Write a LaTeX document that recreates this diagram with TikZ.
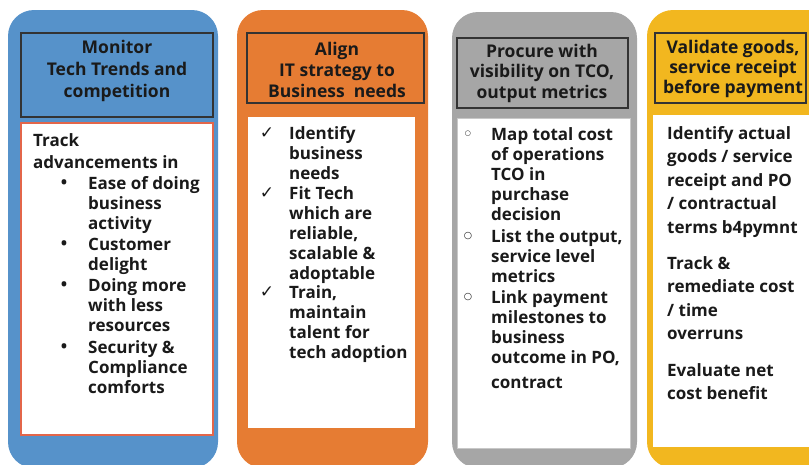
\documentclass[tikz,border=0pt]{standalone}
\usepackage{fontspec}
\setmainfont{Open Sans}
\newfontfamily\symfont{DejaVu Sans}
\definecolor{cblue}{HTML}{5692CA}
\definecolor{corange}{HTML}{E67C33}
\definecolor{cgray}{HTML}{A6A6A6}
\definecolor{cyellow}{HTML}{F2B71F}
\definecolor{hdrline}{HTML}{333333}
\definecolor{txt}{HTML}{1A1A1A}
\definecolor{redline}{HTML}{E3664A}
\definecolor{lgray}{HTML}{C8C8C8}
\begin{document}
\begin{tikzpicture}[x=1pt,y=-1pt,
  colbox/.style={rounded corners=26pt},
  hdrbox/.style={draw=hdrline, line width=1.3pt, inner sep=0pt},
  hdrtext/.style={font=\bfseries\fontsize{17.5}{#1}\selectfont, align=center, text=txt, inner sep=0pt},
  body/.style={font=\bfseries\fontsize{17}{#1}\selectfont, align=left, inner sep=0pt, anchor=north west, text=txt},
  cbox/.style={fill=white, inner sep=0pt},
  dot/.style={font=\bfseries\fontsize{17}{20}\selectfont, text=txt, inner sep=0pt},
  chk/.style={font=\symfont\fontsize{17}{20}\selectfont, text=txt, inner sep=0pt},
  circ/.style={font=\symfont\bfseries\fontsize{#1}{20}\selectfont, text=txt, inner sep=0pt}
]
\useasboundingbox (0,0) rectangle (809,464);
\clip (0,0) rectangle (809,464);

% column backgrounds
\path[fill=cblue, colbox] (8,10) rectangle (218,468);
\path[fill=corange, colbox] (237,10) rectangle (428,468);
\path[fill=cgray, colbox] (452,12) rectangle (637,468);
\path[fill=cyellow, colbox] (647,10) rectangle (840,468);

% header boxes
\node[hdrbox, minimum width=192pt, minimum height=84pt] (h1) at (117,75) {};
\node[hdrbox, minimum width=177pt, minimum height=70pt] (h2) at (335.5,68) {};
\node[hdrbox, minimum width=171pt, minimum height=70pt] (h3) at (542.5,73) {};
\node[hdrbox, minimum width=151pt, minimum height=70pt] (h4) at (730.5,68) {};

\node[hdrtext=22] (ht1) at (117,71) {Monitor\\Tech Trends and\\competition};
\node[hdrtext=21] (ht2) at (337,70) {Align\\IT strategy to\\Business\ \ needs};
\node[hdrtext=20.5] (ht3) at (542,73) {Procure with\\visibility on TCO,\\output metrics};
\node[hdrtext=20] (ht4) at (733,69) {Validate goods,\\service receipt\\before payment};

% content boxes
\node[cbox, draw=redline, line width=1.3pt, minimum width=192pt, minimum height=312pt] (c1) at (117,279) {};
\node[cbox, minimum width=167pt, minimum height=311pt] (c2) at (331.5,272.5) {};
\node[cbox, draw=lgray, line width=0.8pt, minimum width=173pt, minimum height=330pt] (c3) at (543.5,283) {};
\node[cbox, minimum width=170pt, minimum height=332pt] (c4) at (738,281) {};

% column 1 text
\node[body=22] (t1) at (33,131) {\strut Track\\advancements in};
\node[body=20] (t1a) at (88,175) {\strut Ease of doing\\business\\activity};
\node[body=20] (t1b) at (88,236) {\strut Customer\\delight};
\node[body=20] (t1c) at (88,277) {\strut Doing more\\with less\\resources};
\node[body=20] (t1d) at (88,339) {\strut Security \&\\Compliance\\comforts};
\node[dot] (d1a) at (64,184) {•};
\node[dot] (d1b) at (64,245) {•};
\node[dot] (d1c) at (64,286) {•};
\node[dot] (d1d) at (64,348) {•};

% column 2 text
\node[body=20] (t2a) at (289,125) {\strut Identify\\business\\needs};
\node[body=20] (t2b) at (289,185) {\strut Fit Tech\\which are\\reliable,\\scalable \&\\adoptable};
\node[body=20] (t2c) at (289,284) {\strut Train,\\maintain\\talent for\\tech adoption};
\node[chk] (k2a) at (267,133) {✓};
\node[chk] (k2b) at (267,193) {✓};
\node[chk] (k2c) at (267,292) {✓};

% column 3 text
\node[body=20] (t3a) at (491,126) {\strut Map total cost\\of operations\\TCO in\\purchase\\decision};
\node[body=20] (t3b) at (491,228) {\strut List the output,\\service level\\metrics};
\node[body=20] (t3c) at (491,289) {\strut Link payment\\milestones to\\business\\outcome in PO,\\[5pt]contract};
\node[circ=7] (o3a) at (468,134) {○};
\node[circ=9.5] (o3b) at (468,236) {○};
\node[circ=9.5] (o3c) at (468,297) {○};

% column 4 text
\node[body=23.5] (t4a) at (667,122.5) {\strut Identify actual\\goods / service\\receipt and PO\\/ contractual\\terms b4pymnt};
\node[body=23.5] (t4b) at (667,252.5) {\strut Track \&\\remediate cost\\/ time\\overruns};
\node[body=23.5] (t4c) at (667,359.5) {\strut Evaluate net\\cost benefit};
\end{tikzpicture}
\end{document}
